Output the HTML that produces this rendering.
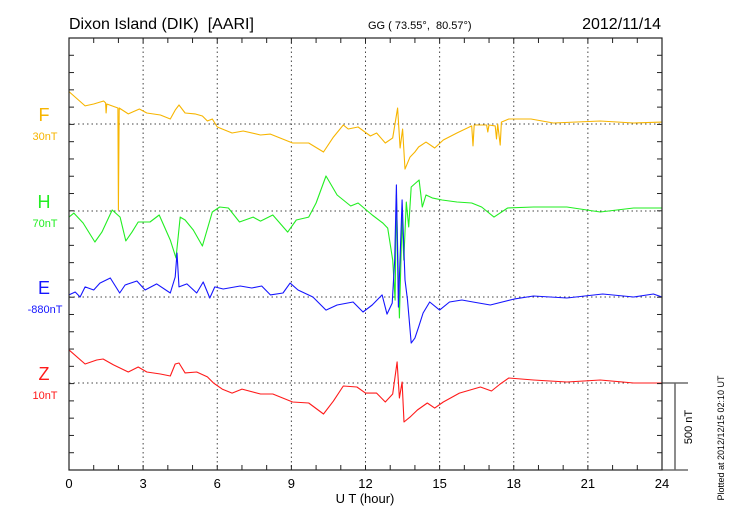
<!DOCTYPE html>
<html><head><meta charset="utf-8"><style>
body{margin:0;background:#fff;width:730px;height:520px;overflow:hidden}
svg{display:block;font-family:"Liberation Sans",sans-serif}
text{white-space:pre}
</style></head><body>
<svg id="chart" width="730" height="520">
<text x="69" y="29" font-size="16" xml:space="preserve">Dixon Island (DIK)  [AARI]</text>
<text x="368" y="29" font-size="11" xml:space="preserve">GG ( 73.55°,  80.57°)</text>
<text x="661" y="29" font-size="16" text-anchor="end">2012/11/14</text>
<g id="grid"></g><g id="series"></g><g id="axes"></g>
<text x="365" y="503" font-size="13" text-anchor="middle">U T (hour)</text>
<text transform="translate(692,427) rotate(-90)" font-size="11" text-anchor="middle">500 nT</text>
<text transform="translate(724,438) rotate(-90)" font-size="9" text-anchor="middle">Plotted at 2012/12/15 02:10 UT</text>
</svg>
<script>
const xTicks=[0,3,6,9,12,15,18,21,24];
const seriesNames=["F","H","E","Z"];
const seriesOffsets=["30nT","70nT","-880nT","10nT"];
const fHours=[0,0.65,1,1.4,1.48,1.5,1.53,1.98,2,2.03,2.4,2.85,3.15,3.7,4.1,4.3,4.45,4.7,5.1,5.4,5.6,5.8,6,6.6,7.05,7.75,8.15,9.05,9.7,10.3,10.7,11.1,11.3,11.7,12.2,12.45,12.8,13.1,13.3,13.4,13.5,13.6,13.8,14,14.15,14.45,14.8,15.15,15.7,16.3,16.35,16.4,16.9,16.95,17,17.25,17.3,17.35,17.45,17.5,17.8,18.7,19.6,21.5,22.85,24];
const fValues=[186,104,115,132,121,63,115,92,-495,92,58,86,63,52,29,80,109,63,58,46,17,29,-17,-52,-40,-63,-58,-109,-109,-161,-75,-6,-29,-17,-69,-52,-109,-80,92,-138,-29,-259,-190,-161,-132,-104,-138,-92,-52,-11,-126,-6,-6,-46,-6,-11,-86,0,-121,11,29,29,6,17,6,11];
const hHours=[0,0.2,0.57,1.05,1.33,1.75,2.07,2.3,2.55,2.8,3.28,3.65,4.1,4.33,4.5,4.7,5.03,5.4,5.8,6.1,6.45,6.9,7.45,7.75,8.25,8.85,9.2,9.7,10,10.4,10.85,11.4,11.7,12.27,12.7,12.9,13.1,13.2,13.25,13.37,13.48,13.55,13.65,13.75,13.85,14.17,14.3,14.45,14.7,15.1,15.7,16.3,16.7,17.2,17.75,18.8,20.15,21.5,22.85,24];
const hValues=[-35,-12,-69,-178,-121,6,-35,-172,-121,-63,-63,-23,-167,-270,-35,-52,-109,-201,-6,23,17,-63,-35,-58,-23,-121,-52,-35,46,201,92,29,46,-23,-69,-98,-282,-512,92,-615,-35,-282,52,-92,138,178,23,92,75,63,52,46,23,-35,17,23,23,-6,17,17];
const eHours=[0,0.25,0.45,0.65,1,1.25,1.67,2.05,2.27,2.75,3.08,3.55,4.1,4.3,4.37,4.45,4.77,5.17,5.43,5.7,5.9,6.24,6.93,7.4,7.8,8.15,8.66,8.95,9.27,9.87,10.4,10.85,11.5,11.9,12.27,12.67,12.87,13.08,13.18,13.25,13.33,13.48,13.6,13.7,13.85,14,14.15,14.33,14.6,15,15.4,15.9,16.35,17.05,18,18.8,20.15,21.6,22.85,23.65,24];
const eValues=[12,29,0,58,40,80,109,23,69,92,40,75,23,115,253,58,75,23,86,-6,58,46,63,52,63,12,23,80,40,0,-75,-46,-29,-86,-46,12,-98,-35,213,644,-58,558,98,-17,-265,-236,-173,-92,-29,-75,-29,-17,-29,-46,-12,6,-6,17,0,17,0];
const zHours=[0,0.65,1.12,1.38,1.8,2.4,2.8,3.15,3.7,4.1,4.3,4.45,4.7,5.17,5.6,5.85,6.2,6.6,7,7.75,8.25,9.05,9.7,10.3,10.7,11.1,11.65,12,12.45,12.8,13.1,13.28,13.37,13.48,13.56,13.8,14.1,14.5,14.8,15.15,15.8,16.65,17.1,17.45,17.8,18.8,20.15,21.5,22.85,24];
const zValues=[190,109,132,138,104,63,92,63,52,40,109,115,58,63,35,0,-35,-58,-35,-63,-63,-109,-115,-178,-104,-17,-23,-58,-58,-109,-63,121,-86,6,-224,-196,-155,-115,-144,-109,-58,-23,-46,-6,29,17,6,17,0,0];

const NS="http://www.w3.org/2000/svg";
const X0=69,X1=662,Y0=38,Y1=470;
const baselines=[124,211,297,383];
const colors=["#f7b500","#22ee22","#1515ff","#ff1a1a"];
const pxPerNT=87/500;
const xs=h=>X0+(X1-X0)*h/24;
const ys=(i,v)=>baselines[i]-v*pxPerNT;
function mk(tag,attrs,parent){const e=document.createElementNS(NS,tag);for(const k in attrs)e.setAttribute(k,attrs[k]);parent.appendChild(e);return e;}
const grid=document.getElementById('grid'),axes=document.getElementById('axes'),ser=document.getElementById('series');
xTicks.forEach(t=>{if(t>0&&t<24){const l=mk('line',{x1:xs(t),x2:xs(t),y1:Y0,y2:Y1,stroke:'#444','stroke-dasharray':'1.5,3','stroke-width':1},grid);

}});
baselines.forEach(b=>{const l=mk('line',{x1:X0,x2:X1,y1:b,y2:b,stroke:'#444','stroke-dasharray':'1.5,3','stroke-width':1},grid);

});
const fr=mk('rect',{x:X0,y:Y0,width:X1-X0,height:Y1-Y0,fill:'none',stroke:'#222','stroke-width':1.2},axes);


for(let h=1;h<24;h++){mk('line',{x1:xs(h),x2:xs(h),y1:Y0,y2:Y0+5,stroke:'#222'},axes);mk('line',{x1:xs(h),x2:xs(h),y1:Y1,y2:Y1-5,stroke:'#222'},axes);}
for(let k=1;k<25;k++){const y=Y0+k*(Y1-Y0)/25;mk('line',{x1:X0,x2:X0+5,y1:y,y2:y,stroke:'#222'},axes);mk('line',{x1:X1,x2:X1-5,y1:y,y2:y,stroke:'#222'},axes);}
xTicks.forEach(t=>{const tx=mk('text',{x:xs(t),y:488,'font-size':13,'text-anchor':'middle'},axes);tx.textContent=t;

});
mk('line',{x1:X1,x2:688,y1:383,y2:383,stroke:'#222'},axes);
mk('line',{x1:X1,x2:688,y1:Y1,y2:Y1,stroke:'#222'},axes);
const sb=mk('line',{x1:675,x2:675,y1:383,y2:Y1,stroke:'#666','stroke-width':1.5},axes);


const allH=[fHours,hHours,eHours,zHours],allV=[fValues,hValues,eValues,zValues];
for(let i=0;i<4;i++){
  const pts=allH[i].map((h,j)=>xs(h).toFixed(1)+','+ys(i,allV[i][j]).toFixed(1)).join(' ');
  const p=mk('polyline',{points:pts,fill:'none',stroke:colors[i],'stroke-width':1.1,'stroke-linejoin':'round'},ser);
  
  
  const t=mk('text',{x:44,y:baselines[i]-3,'font-size':18,'text-anchor':'middle',fill:colors[i]},axes);t.textContent=seriesNames[i];
  
  
  const o=mk('text',{x:45,y:baselines[i]+16,'font-size':11,'text-anchor':'middle',fill:colors[i]},axes);o.textContent=seriesOffsets[i];
  
  
}
</script>
</body></html>
